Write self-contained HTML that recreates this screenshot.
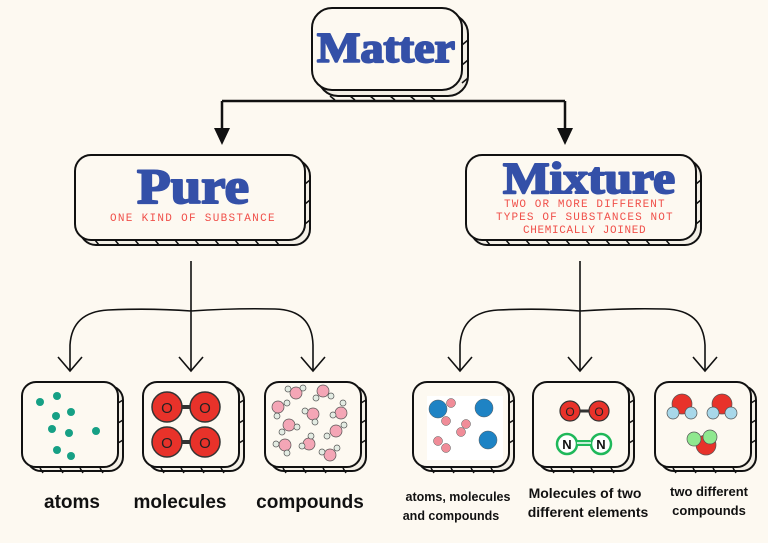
<!DOCTYPE html>
<html><head><meta charset="utf-8"><style>
html,body{margin:0;padding:0;background:#fdf9f1;}
svg{display:block}
.t{font-family:"Liberation Serif","DejaVu Serif",serif;font-weight:bold;fill:#3450a8;stroke:#3450a8;stroke-width:2;stroke-linejoin:round;}
.s{font-family:"Liberation Mono",monospace;fill:#f0504a;font-size:11px;letter-spacing:1.4px;}
.l{font-family:"Liberation Sans",sans-serif;font-weight:bold;fill:#111;}
</style></head><body>
<svg width="768" height="543" viewBox="0 0 768 543" xmlns="http://www.w3.org/2000/svg">
<g fill="none" stroke="#111" stroke-width="2">
<rect x="318" y="14" width="150" height="82" rx="20" fill="#f3efe6"/>
<path d="M330 96 l5 4 M350 96 l5 4 M370 96 l5 4 M390 96 l5 4 M410 96 l5 4 M430 96 l5 4 M468 40 l-6 5 M468 60 l-6 5 M468 78 l-6 5" stroke-width="1.5"/>
<rect x="312" y="8" width="150" height="82" rx="20" fill="#fdf9f1"/>
<path d="M222 101 H565 M222 101 V130 M565 101 V130" stroke-width="2.5"/>
<path d="M214 128 L230 128 L222 145 Z M557 128 L573 128 L565 145 Z" fill="#111" stroke="none"/>
<rect x="80" y="160" width="230" height="85" rx="16" fill="#f3efe6"/>
<path d="M95 240 l4 5 M115 240 l4 5 M135 240 l4 5 M155 240 l4 5 M175 240 l4 5 M195 240 l4 5 M215 240 l4 5 M235 240 l4 5 M255 240 l4 5 M275 240 l4 5 M310 180 l-5 4 M310 200 l-5 4 M310 220 l-5 4" stroke-width="1.5"/>
<rect x="75" y="155" width="230" height="85" rx="16" fill="#fdf9f1"/>
<rect x="471" y="160" width="230" height="85" rx="16" fill="#f3efe6"/>
<path d="M486 240 l4 5 M506 240 l4 5 M526 240 l4 5 M546 240 l4 5 M566 240 l4 5 M586 240 l4 5 M606 240 l4 5 M626 240 l4 5 M646 240 l4 5 M666 240 l4 5 M701 180 l-5 4 M701 200 l-5 4 M701 220 l-5 4" stroke-width="1.5"/>
<rect x="466" y="155" width="230" height="85" rx="16" fill="#fdf9f1"/>
<path d="M191 261 V370 M108 310 Q150 308 191 311 Q235 308 275 309 Q312 310 313 345 V370 M108 310 Q72 312 70 345 V370" stroke-width="1.6"/>
<path d="M58 357 L70 371 L82 357 M179 357 L191 371 L203 357 M301 357 L313 371 L325 357" stroke-width="1.6"/>
<path d="M580 261 V370 M498 310 Q540 308 580 311 Q625 308 665 309 Q703 310 705 345 V370 M498 310 Q462 312 460 345 V370" stroke-width="1.6"/>
<path d="M448 357 L460 371 L472 357 M568 357 L580 371 L592 357 M693 357 L705 371 L717 357" stroke-width="1.6"/>
</g>
<text x="386" y="62" text-anchor="middle" class="t" font-size="42" textLength="138" lengthAdjust="spacingAndGlyphs">Matter</text>
<text x="193" y="203" text-anchor="middle" class="t" font-size="50" textLength="112" lengthAdjust="spacingAndGlyphs">Pure</text>
<text x="193" y="221" text-anchor="middle" class="s" textLength="166">ONE KIND OF SUBSTANCE</text>
<text x="589" y="193" text-anchor="middle" class="t" font-size="44" textLength="172" lengthAdjust="spacingAndGlyphs">Mixture</text>
<text x="585" y="207" text-anchor="middle" class="s" font-size="10.5" textLength="162">TWO OR MORE DIFFERENT</text>
<text x="585" y="220" text-anchor="middle" class="s" font-size="10.5" textLength="178">TYPES OF SUBSTANCES NOT</text>
<text x="585" y="233" text-anchor="middle" class="s" font-size="10.5" textLength="124">CHEMICALLY JOINED</text>
<g fill="none" stroke="#111" stroke-width="2">
<g id="b1">
<rect x="27" y="386" width="96" height="85" rx="14" fill="#f3efe6"/>
<path d="M40 468 l3 5 M60 468 l3 5 M80 468 l3 5 M100 468 l3 5 M123 400 l-5 3 M123 420 l-5 3 M123 440 l-5 3" stroke-width="1.5"/>
<rect x="22" y="382" width="96" height="85" rx="14" fill="#fdf9f1"/>
</g>
<use href="#b1" x="121"/><use href="#b1" x="243"/>
<use href="#b1" x="391"/><use href="#b1" x="511"/><use href="#b1" x="633"/>
</g>
<g fill="#16a085">
<circle cx="40" cy="402" r="4"/><circle cx="57" cy="396" r="4"/><circle cx="56" cy="416" r="4"/><circle cx="71" cy="412" r="4"/>
<circle cx="52" cy="429" r="4"/><circle cx="69" cy="433" r="4"/><circle cx="96" cy="431" r="4"/><circle cx="57" cy="450" r="4"/><circle cx="71" cy="456" r="4"/>
</g>
<g stroke="#333" stroke-width="1.5">
<line x1="170" y1="407" x2="200" y2="407" stroke-width="4"/><line x1="170" y1="442" x2="200" y2="442" stroke-width="4"/>
<circle cx="167" cy="407" r="15" fill="#e8322a"/><circle cx="205" cy="407" r="15" fill="#e8322a"/>
<circle cx="167" cy="442" r="15" fill="#e8322a"/><circle cx="205" cy="442" r="15" fill="#e8322a"/>
</g>
<g font-family="Liberation Sans,sans-serif" font-size="15" fill="#222" text-anchor="middle">
<text x="167" y="413">O</text><text x="205" y="413">O</text><text x="167" y="448">O</text><text x="205" y="448">O</text>
</g>
<g stroke="#555" stroke-width="0.7">
<g fill="#f4a6b6"><circle cx="278" cy="407" r="6"/><circle cx="296" cy="393" r="6"/><circle cx="323" cy="391" r="6"/><circle cx="341" cy="413" r="6"/><circle cx="313" cy="414" r="6"/><circle cx="289" cy="425" r="6"/><circle cx="336" cy="431" r="6"/><circle cx="285" cy="445" r="6"/><circle cx="309" cy="444" r="6"/><circle cx="330" cy="455" r="6"/></g>
<g fill="#e3ece3"><circle cx="287" cy="403" r="3"/><circle cx="277" cy="416" r="3"/><circle cx="288" cy="389" r="3"/><circle cx="303" cy="388" r="3"/><circle cx="316" cy="398" r="3"/><circle cx="331" cy="396" r="3"/><circle cx="343" cy="403" r="3"/><circle cx="333" cy="415" r="3"/><circle cx="305" cy="411" r="3"/><circle cx="315" cy="422" r="3"/><circle cx="282" cy="432" r="3"/><circle cx="297" cy="427" r="3"/><circle cx="327" cy="436" r="3"/><circle cx="344" cy="425" r="3"/><circle cx="276" cy="444" r="3"/><circle cx="287" cy="453" r="3"/><circle cx="302" cy="446" r="3"/><circle cx="311" cy="436" r="3"/><circle cx="322" cy="452" r="3"/><circle cx="337" cy="448" r="3"/></g>
</g>
<rect x="427" y="396" width="76" height="64" fill="#fff"/>
<g stroke="#555" stroke-width="0.5">
<g fill="#1e83c4"><circle cx="438" cy="409" r="9"/><circle cx="484" cy="408" r="9"/><circle cx="488" cy="440" r="9"/></g>
<g fill="#f08c98"><circle cx="451" cy="403" r="4.5"/><circle cx="446" cy="421" r="4.5"/><circle cx="466" cy="424" r="4.5"/><circle cx="461" cy="432" r="4.5"/><circle cx="438" cy="441" r="4.5"/><circle cx="446" cy="448" r="4.5"/></g>
</g>
<g stroke="#333" stroke-width="1.2">
<line x1="570" y1="411" x2="600" y2="411" stroke-width="3"/>
<circle cx="570" cy="411" r="10" fill="#e8322a"/><circle cx="599" cy="411" r="10" fill="#e8322a"/>
</g>
<g stroke="#1fb85a" stroke-width="2.5"><line x1="575" y1="443" x2="590" y2="443" stroke-width="6"/>
<circle cx="567" cy="444" r="10" fill="#fff"/><circle cx="601" cy="444" r="10" fill="#fff"/></g>
<line x1="577" y1="443" x2="591" y2="443" stroke="#fff" stroke-width="1.5"/>
<g font-family="Liberation Sans,sans-serif" text-anchor="middle"><text x="570" y="416" font-size="12" fill="#222">O</text><text x="599" y="416" font-size="12" fill="#222">O</text>
<text x="567" y="449" font-size="13" font-weight="bold" fill="#111">N</text><text x="601" y="449" font-size="13" font-weight="bold" fill="#111">N</text></g>
<g stroke="#555" stroke-width="0.7">
<circle cx="682" cy="404" r="10" fill="#e8322a"/><circle cx="673" cy="413" r="6" fill="#a8d8ea"/><circle cx="691" cy="413" r="6" fill="#a8d8ea"/>
<circle cx="722" cy="404" r="10" fill="#e8322a"/><circle cx="713" cy="413" r="6" fill="#a8d8ea"/><circle cx="731" cy="413" r="6" fill="#a8d8ea"/>
<circle cx="706" cy="445" r="10" fill="#e8322a"/><circle cx="710" cy="437" r="7" fill="#8fe88f"/><circle cx="694" cy="439" r="7" fill="#8fe88f"/>
</g>
<g class="l" text-anchor="middle">
<text x="72" y="508" font-size="19">atoms</text>
<text x="180" y="508" font-size="19">molecules</text>
<text x="310" y="508" font-size="19">compounds</text>
<text x="458" y="501" font-size="12.5">atoms, molecules</text>
<text x="451" y="520" font-size="12.5">and compounds</text>
<text x="585" y="498" font-size="14">Molecules of two</text>
<text x="588" y="517" font-size="14">different elements</text>
<text x="709" y="496" font-size="13">two different</text>
<text x="709" y="515" font-size="13">compounds</text>
</g>
</svg>
</body></html>
